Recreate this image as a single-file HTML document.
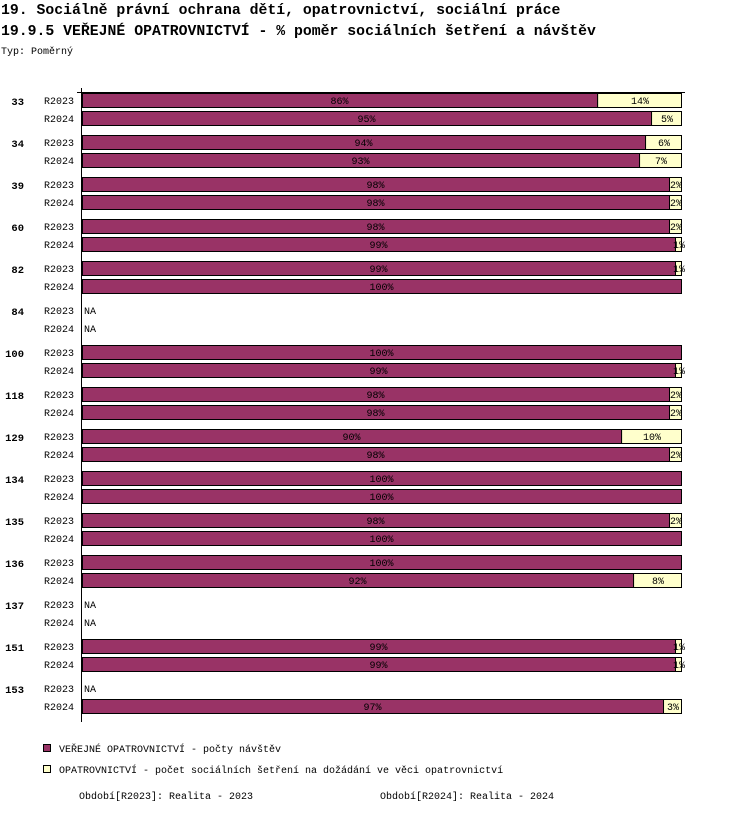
<!DOCTYPE html>
<html><head><meta charset="utf-8">
<style>
body{margin:0;background:#fff;width:750px;height:832px;overflow:hidden;font-family:"Liberation Mono",monospace;}
svg text{font-family:"Liberation Mono",monospace;}
</style></head>
<body>
<svg id="chart" width="750" height="832" xmlns="http://www.w3.org/2000/svg">
<text x="1" y="14" font-size="14.8" font-weight="bold">19. Sociálně právní ochrana dětí, opatrovnictví, sociální práce</text>
<text x="1" y="35" font-size="14.8" font-weight="bold">19.9.5 VEŘEJNÉ OPATROVNICTVÍ - % poměr sociálních šetření a návštěv</text>
<text x="1" y="54" font-size="10">Typ: Poměrný</text>
<g id="plot"></g>
<rect x="43.5" y="744.5" width="7" height="7" fill="#993366" stroke="#000"/>
<text x="59" y="752" font-size="10">VEŘEJNÉ OPATROVNICTVÍ - počty návštěv</text>
<rect x="43.5" y="765.5" width="7" height="7" fill="#ffffcc" stroke="#000"/>
<text x="59" y="773" font-size="10">OPATROVNICTVÍ - počet sociálních šetření na dožádání ve věci opatrovnictví</text>
<text x="79" y="799" font-size="10">Období[R2023]: Realita - 2023</text>
<text x="380" y="799" font-size="10">Období[R2024]: Realita - 2024</text>
</svg>
<script>
const groups=["33","34","39","60","82","84","100","118","129","134","135","136","137","151","153"];
const periods=["R2023","R2024"];
// visits % per group [R2023, R2024]; null = NA
const visits2023=[86,94,98,98,99,null,100,98,90,100,98,100,null,99,null];
const visits2024=[95,93,98,99,100,null,99,98,98,100,100,92,null,99,97];
const inquiries2023=[14,6,2,2,1,null,0,2,10,0,2,0,null,1,null];
const inquiries2024=[5,7,2,1,0,null,1,2,2,0,0,8,null,1,3];

const NS="http://www.w3.org/2000/svg";
const plot=document.getElementById('plot');
const x0=82,x1=681;
const xs=v=>x0+(x1-x0)*v/100;
const groupY=i=>92+42*i;
function el(t,a){const e=document.createElementNS(NS,t);for(const k in a)e.setAttribute(k,a[k]);plot.appendChild(e);return e;}
function txt(x,y,s,anchor,size,bold){const t=el('text',{x:x,y:y,'font-size':size,'text-anchor':anchor});if(bold)t.setAttribute('font-weight','bold');t.textContent=s;return t;}

groups.forEach((g,i)=>{
  const gy=groupY(i);
  const gl=txt(24,gy+13,g,'end',10.5,true);
  
  
  [[visits2023[i],inquiries2023[i]],[visits2024[i],inquiries2024[i]]].forEach((pair,j)=>{
    const y=gy+1+18*j;
    const pl=txt(44,y+11,periods[j],'start',10);
    
    
    if(pair[0]===null){
      const na=txt(84,y+11,'NA','start',10);
      
      
      return;
    }
    const total=pair[0]+pair[1];
    const v=pair[0]/total*100;
    const r1=el('rect',{x:x0+0.5,y:y+0.5,width:xs(v)-x0,height:14,fill:'#993366',stroke:'#000'});
    
    
    const t1=txt((x0+xs(v))/2,y+11,pair[0]+'%','middle',10);
    
    
    if(pair[1]>0){
      const r2=el('rect',{x:xs(v)+0.5,y:y+0.5,width:x1-xs(v),height:14,fill:'#ffffcc',stroke:'#000'});
      
      
      const t2=txt((xs(v)+x1)/2+1,y+11,pair[1]+'%','middle',10);
      
      
    }
  });
});
const ax=el('line',{x1:81.5,y1:88,x2:81.5,y2:722,stroke:'#000'});


const tp=el('line',{x1:77,y1:92.5,x2:685,y2:92.5,stroke:'#000'});


</script>
</body></html>
